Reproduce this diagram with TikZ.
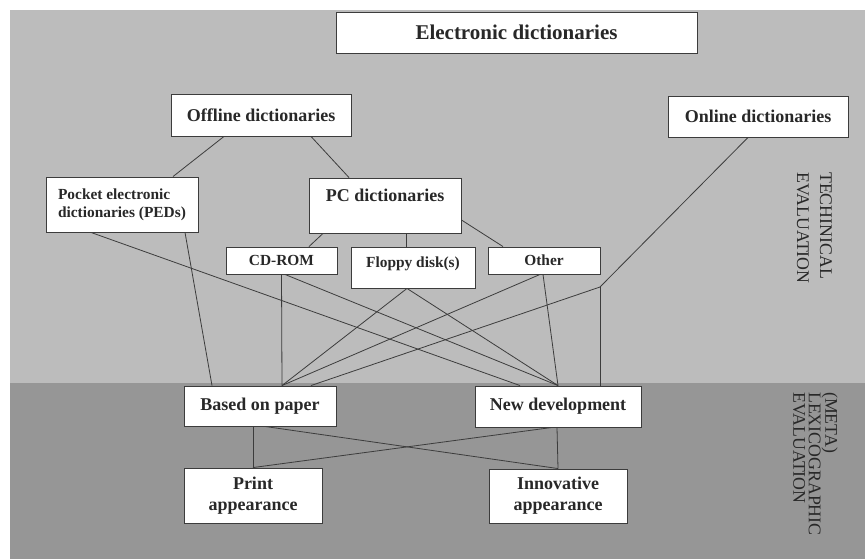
\documentclass[tikz,border=0pt]{standalone}
\usepackage{fontspec}
\setmainfont{Liberation Serif}
\usetikzlibrary{calc}
\definecolor{bglight}{RGB}{188,188,188}
\definecolor{bgdark}{RGB}{150,150,150}
\definecolor{ink}{RGB}{40,40,40}
\definecolor{edge}{RGB}{60,60,60}
\begin{document}
\begin{tikzpicture}[x=1pt,y=-1pt,
  box/.style={draw=edge, line width=0.9pt, fill=white, inner sep=0pt, text=ink,
    font=\bfseries\fontsize{18}{21}\selectfont, align=center},
  small/.style={font=\bfseries\fontsize{15.4}{18}\selectfont},
  link/.style={draw=edge, line width=0.8pt},
  side/.style={rotate=-90, anchor=north west, inner sep=0pt, align=left, text=ink,
    font=\fontsize{17.8}{23}\selectfont}]
\useasboundingbox (0,0) rectangle (865,559);
\fill[white] (0,0) rectangle (865,559);
\fill[bglight] (10,10) rectangle (865,383);
\fill[bgdark] (10,383) rectangle (865,559);

\node[box, minimum width=361pt, minimum height=41pt, font=\bfseries\fontsize{21}{24}\selectfont] (ed) at (516.5,32.5) {Electronic dictionaries};
\node[box, minimum width=180pt, minimum height=42pt] (off) at (261,115) {Offline dictionaries};
\node[box, minimum width=180pt, minimum height=41pt] (onl) at (758,116.5) {Online dictionaries};
\node[box, small, minimum width=152pt, minimum height=55pt, align=left] (ped) at (122,204.5) {Pocket electronic\\dictionaries (PEDs)};
\node[box, minimum width=152pt, text height=23pt, text depth=32pt] (pc) at (385,205.5) {PC dictionaries};
\node[box, small, minimum width=111pt, minimum height=27pt] (cd) at (281.5,260.5) {CD-ROM};
\node[box, small, minimum width=124pt, text height=20pt, text depth=21pt] (fl) at (413,267.5) {Floppy disk(s)};
\node[box, small, minimum width=112pt, minimum height=27pt] (oth) at (544,260.5) {Other};
\node[box, minimum width=152pt, minimum height=40pt] (bp) at (260,406) {Based on paper};
\node[box, minimum width=166pt, minimum height=41pt] (nd) at (558,406.5) {New development};
\node[box, minimum width=138pt, minimum height=55pt] (pa) at (253,495.5) {Print\\appearance};
\node[box, minimum width=138pt, minimum height=54pt] (ia) at (558,496) {Innovative\\appearance};
\coordinate (j) at (600,287);

\node[side] (tech) at (832,172) {TECHINICAL\\EVALUATION};
\node[side, font=\fontsize{17.8}{15.5}\selectfont] (lex) at (838,392) {(META)\\LEXICOGRAPHIC\\EVALUATION};

\draw[link] ([xshift=-37pt]off.south) -- ([xshift=51pt]ped.north);
\draw[link] ([xshift=50pt]off.south) -- ([xshift=-36pt]pc.north);
\draw[link] ([xshift=-10pt]onl.south) -- (j);
\draw[link] (j) -- ([xshift=42pt]nd.north);
\draw[link] (j) -- ([xshift=51pt]bp.north);
\draw[link] ([xshift=-62pt]pc.south) -- ([xshift=27.5pt]cd.north);
\draw[link] ([xshift=21pt]pc.south) -- ([xshift=-7pt]fl.north);
\draw[link] ([yshift=-14.5pt]pc.east) -- ([xshift=-41pt]oth.north);
\draw[link] ([xshift=63pt]ped.south) -- ([xshift=-48pt]bp.north);
\draw[link] ([xshift=-31pt]ped.south) -- ([xshift=-38pt]nd.north);
\draw[link] (cd.south) -- ([xshift=22pt]bp.north);
\draw[link] ([xshift=3.5pt]cd.south) -- (nd.north);
\draw[link] ([xshift=-6pt]fl.south) -- ([xshift=22pt]bp.north);
\draw[link] ([xshift=-6pt]fl.south) -- (nd.north);
\draw[link] ([xshift=-4pt]oth.south) -- ([xshift=22pt]bp.north);
\draw[link] ([xshift=-1pt]oth.south) -- (nd.north);
\draw[link] ([xshift=-7pt]bp.south) -- (pa.north);
\draw[link] ([xshift=5pt]bp.south) -- (ia.north);
\draw[link] ([xshift=-1pt]nd.south) -- (ia.north);
\draw[link] ([xshift=-6pt]nd.south) -- (pa.north);
\end{tikzpicture}
\end{document}
